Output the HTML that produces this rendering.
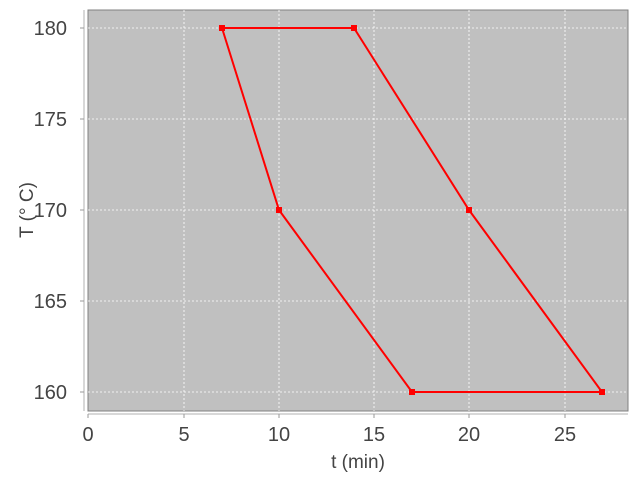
<!DOCTYPE html><html><head><style>body{margin:0;background:#fff}</style></head><body>
<svg width="640" height="480" xmlns="http://www.w3.org/2000/svg" font-family="Liberation Sans, sans-serif">
<rect x="88" y="10" width="540" height="401" fill="#c0c0c0" stroke="#808080" stroke-width="1"/>
<g stroke="#fff" stroke-dasharray="2,2" stroke-width="0.8">
<line x1="184" y1="10" x2="184" y2="411"/><line x1="279" y1="10" x2="279" y2="411"/><line x1="374" y1="10" x2="374" y2="411"/><line x1="469" y1="10" x2="469" y2="411"/><line x1="565" y1="10" x2="565" y2="411"/>
<line x1="88" y1="28" x2="628" y2="28"/><line x1="88" y1="119" x2="628" y2="119"/><line x1="88" y1="210" x2="628" y2="210"/><line x1="88" y1="301" x2="628" y2="301"/><line x1="88" y1="392" x2="628" y2="392"/>
</g>
<g stroke="#ccc" stroke-width="1.5"><line x1="84" y1="10" x2="84" y2="411"/><line x1="88" y1="414" x2="628" y2="414"/></g>
<g stroke="#999"><line x1="88" y1="414" x2="88" y2="418"/><line x1="184" y1="414" x2="184" y2="418"/><line x1="279" y1="414" x2="279" y2="418"/><line x1="374" y1="414" x2="374" y2="418"/><line x1="469" y1="414" x2="469" y2="418"/><line x1="565" y1="414" x2="565" y2="418"/>
<line x1="80" y1="28" x2="84" y2="28"/><line x1="80" y1="119" x2="84" y2="119"/><line x1="80" y1="210" x2="84" y2="210"/><line x1="80" y1="301" x2="84" y2="301"/><line x1="80" y1="392" x2="84" y2="392"/></g>
<g font-size="20" fill="#444" text-anchor="middle"><text x="88" y="441">0</text><text x="184" y="441">5</text><text x="279" y="441">10</text><text x="374" y="441">15</text><text x="469" y="441">20</text><text x="565" y="441">25</text></g>
<g font-size="20" fill="#444" text-anchor="end"><text x="67" y="35">180</text><text x="67" y="126">175</text><text x="67" y="217">170</text><text x="67" y="308">165</text><text x="67" y="399">160</text></g>
<text x="358" y="468" font-size="19" fill="#444" text-anchor="middle">t (min)</text>
<text transform="translate(33,210) rotate(-90)" font-size="19" fill="#444" text-anchor="middle">T (° C)</text>
<polyline points="222,28 354,28 469,210 602,392 412,392 279,210 222,28" fill="none" stroke="#f00" stroke-width="2"/>
<g fill="#f00"><rect x="219" y="25" width="6" height="6"/><rect x="351" y="25" width="6" height="6"/><rect x="466" y="207" width="6" height="6"/><rect x="599" y="389" width="6" height="6"/><rect x="409" y="389" width="6" height="6"/><rect x="276" y="207" width="6" height="6"/></g>
</svg></body></html>
